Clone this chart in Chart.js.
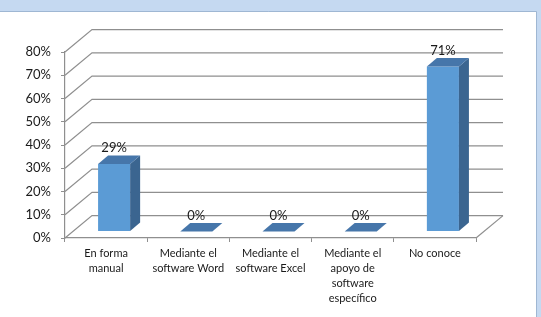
<!DOCTYPE html>
<html>
<head>
<meta charset="utf-8">
<script src="https://cdn.jsdelivr.net/npm/chart.js@4.4.0/dist/chart.umd.min.js"></script>
<style>
  html, body { margin: 0; padding: 0; background: #c5d9f1; }
  canvas { display: block; }
</style>
</head>
<body>
<canvas id="grafico" width="541" height="317"></canvas>
<script>
// datos del grafico
var categorias = [
	["En forma", "manual"],
	["Mediante el", "software Word"],
	["Mediante el", "software Excel"],
	["Mediante el", "apoyo de", "software", "específico"],
	["No conoce"]
];
var valores = [29, 0, 0, 0, 71];
var ticksY = [0, 10, 20, 30, 40, 50, 60, 70, 80];

// profundidad del "3D"
var PARED_DX = 27, PARED_DY = -22.4;   // pared del fondo
var BARRA_X = 8, BARRA_Y = -6.5;       // desplazamiento de la cara frontal
var PROF_DX = 10, PROF_DY = -8.5;      // grosor de la barra

var fuente = "Lato, 'Liberation Sans', sans-serif";

var marco = {
	id: 'marco',
	beforeDraw: function(chart){
		var ctx = chart.ctx;
		ctx.save();
		ctx.fillStyle = '#c5d9f1';
		ctx.fillRect(0, 0, chart.width, chart.height);
		ctx.fillStyle = '#ffffff';
		ctx.fillRect(0, 12, 536, chart.height - 12);
		ctx.strokeStyle = '#9fb7d3';
		ctx.lineWidth = 1;
		ctx.beginPath();
		ctx.moveTo(0, 11.5); ctx.lineTo(536.5, 11.5); ctx.lineTo(536.5, chart.height);
		ctx.stroke();
		ctx.restore();
	}
};

var paredes = {
	id: 'paredes',
	beforeDatasetsDraw: function(chart){
		var ctx = chart.ctx, y = chart.scales.y, a = chart.chartArea;
		ctx.save();
		ctx.strokeStyle = '#8f8f8f';
		ctx.lineWidth = 1.2;
		ticksY.forEach(function(v){
			var py = y.getPixelForValue(v);
			ctx.beginPath();
			ctx.moveTo(a.left, py);
			ctx.lineTo(a.left + PARED_DX, py + PARED_DY);
			ctx.lineTo(a.right + PARED_DX, py + PARED_DY);
			ctx.stroke();
		});
		// borde derecho del piso
		ctx.beginPath();
		ctx.moveTo(a.right, a.bottom);
		ctx.lineTo(a.right + PARED_DX, a.bottom + PARED_DY);
		ctx.stroke();
		ctx.restore();
	}
};

var barras3d = {
	id: 'barras3d',
	beforeDatasetDraw: function(chart){
		chart.ctx.save();
		chart.ctx.translate(BARRA_X, BARRA_Y);
	},
	afterDatasetDraw: function(chart, args){
		var ctx = chart.ctx;
		args.meta.data.forEach(function(bar, i){
			var p = bar.getProps(['x', 'y', 'base', 'width']);
			var l = p.x - p.width / 2, r = p.x + p.width / 2;
			// cara lateral
			ctx.fillStyle = '#3b6590';
			ctx.beginPath();
			ctx.moveTo(r, p.y);
			ctx.lineTo(r + PROF_DX, p.y + PROF_DY);
			ctx.lineTo(r + PROF_DX, p.base + PROF_DY);
			ctx.lineTo(r, p.base);
			ctx.closePath();
			ctx.fill();
			// cara superior
			ctx.fillStyle = '#4676aa';
			ctx.beginPath();
			ctx.moveTo(l, p.y);
			ctx.lineTo(r, p.y);
			ctx.lineTo(r + PROF_DX, p.y + PROF_DY);
			ctx.lineTo(l + PROF_DX, p.y + PROF_DY);
			ctx.closePath();
			ctx.fill();
			// etiqueta
			ctx.fillStyle = '#1a1a1a';
			ctx.font = '13px ' + fuente;
			ctx.textAlign = 'center';
			ctx.textBaseline = 'middle';
			ctx.fillText(valores[i] + '%', p.x, p.y - 16);
		});
		ctx.restore();
	}
};

new Chart(document.getElementById('grafico'), {
	type: 'bar',
	data: {
		labels: categorias,
		datasets: [{
			data: valores,
			backgroundColor: '#5b9bd5',
			borderWidth: 0,
			categoryPercentage: 1,
			barPercentage: 0.39
		}]
	},
	options: {
		responsive: false,
		animation: false,
		layout: { padding: { top: 52, right: 65, bottom: 0, left: 0 } },
		plugins: { legend: { display: false }, tooltip: { enabled: false } },
		scales: {
			x: {
				afterFit: function(s){ s.height = 79; },
				grid: { drawOnChartArea: false, color: '#8f8f8f', tickLength: 4, offset: true },
				border: { display: true, color: '#8f8f8f', width: 1.2 },
				ticks: { color: '#1a1a1a', maxRotation: 0, autoSkip: false, padding: 4,
					font: { family: fuente, size: 11, lineHeight: 1.36 } }
			},
			y: {
				min: 0, max: 80,
				afterFit: function(s){ s.width = 65; },
				afterBuildTicks: function(s){ s.ticks = ticksY.map(function(v){ return { value: v }; }); },
				grid: { drawOnChartArea: false, color: '#8f8f8f', tickLength: 4 },
				border: { display: true, color: '#8f8f8f', width: 1.2 },
				ticks: { color: '#1a1a1a', padding: 10,
					font: { family: fuente, size: 13 },
					callback: function(v){ return v + '%'; } }
			}
		}
	},
	plugins: [marco, paredes, barras3d]
});
</script>
</body>
</html>
